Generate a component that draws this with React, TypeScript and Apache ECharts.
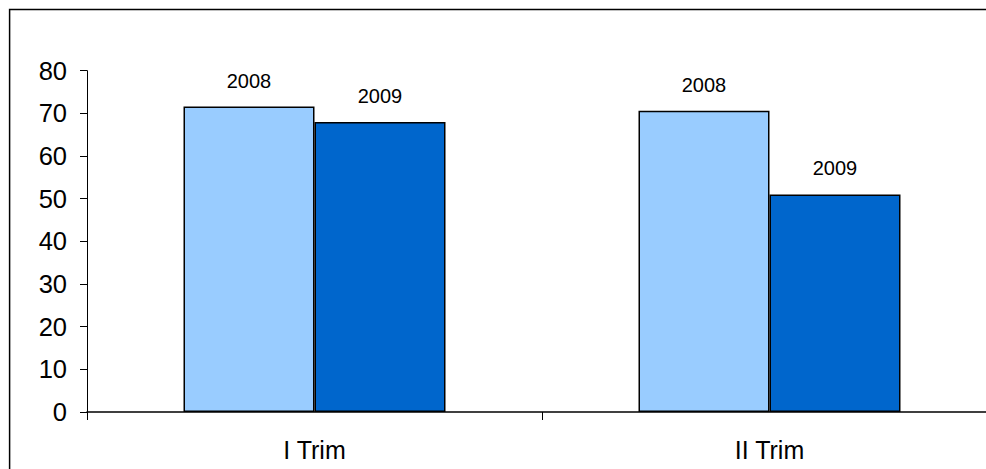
import React, { useEffect, useRef } from "react";
import * as echarts from "echarts";

const categories = ["I Trim", "II Trim"];
const seriesNames = ["2008", "2009"];
const values2008 = [71.6, 70.6];
const values2009 = [68.0, 51.0];
const yTicks = { min: 0, max: 80, interval: 10 };

const FONT = "'Liberation Sans', Arial, sans-serif";

export default function App() {
  const ref = useRef<HTMLDivElement>(null);
  useEffect(() => {
    if (!ref.current) return;
    const chart = echarts.init(ref.current, undefined, { renderer: "svg" });
    const label = {
      show: true,
      position: "top",
      distance: 16,
      formatter: (p: any) => p.seriesName,
      color: "#000",
      fontSize: 20,
      fontFamily: FONT,
    };
    chart.setOption({
      animation: false,
      backgroundColor: "#fff",
      graphic: [
        {
          type: "rect",
          shape: { x: 9.6, y: 9.6, width: 2000, height: 2000 },
          style: { fill: "none", stroke: "#000", lineWidth: 1.5 },
          silent: true,
        },
      ],
      grid: { left: 87, top: 70.7, right: 13, bottom: 57, containLabel: false },
      xAxis: {
        type: "category",
        data: categories,
        axisLine: { lineStyle: { color: "#000", width: 1.5 } },
        axisTick: { show: true, inside: false, length: 8, lineStyle: { color: "#000", width: 1 } },
        axisLabel: { color: "#000", fontSize: 25, fontFamily: FONT, margin: 25 },
        splitLine: { show: false },
      },
      yAxis: {
        type: "value",
        min: yTicks.min,
        max: yTicks.max,
        interval: yTicks.interval,
        axisLine: { show: true, lineStyle: { color: "#000", width: 1 } },
        axisTick: { show: true, inside: false, length: 7, lineStyle: { color: "#000", width: 1 } },
        axisLabel: { color: "#000", fontSize: 25.5, fontFamily: FONT, margin: 20 },
        splitLine: { show: false },
      },
      series: [
        {
          name: seriesNames[0],
          type: "bar",
          data: values2008,
          barWidth: 131,
          barGap: "0%",
          itemStyle: { color: "#99CCFF", borderColor: "#000", borderWidth: 1.5 },
          label,
        },
        {
          name: seriesNames[1],
          type: "bar",
          data: values2009,
          barWidth: 131,
          barGap: "0%",
          itemStyle: { color: "#0066CC", borderColor: "#000", borderWidth: 1.5 },
          label,
        },
      ],
    });
    return () => chart.dispose();
  }, []);
  return (
    <div
      ref={ref}
      style={{ position: "fixed", left: 0, top: 0, width: 1010, height: 469, background: "#fff" }}
    />
  );
}
